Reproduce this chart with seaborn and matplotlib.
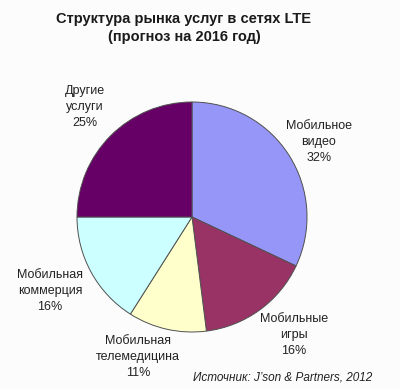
import matplotlib
matplotlib.use("Agg")
import matplotlib.pyplot as plt
import seaborn as sns

sns.set_theme(style="white")
plt.rcParams['font.family'] = ['Liberation Sans', 'DejaVu Sans']

# data
segments = ["Мобильное\nвидео", "Мобильные\nигры", "Мобильная\nтелемедицина",
            "Мобильная\nкоммерция", "Другие\nуслуги"]
shares = [32, 16, 11, 16, 25]
colors = ["#9696F8", "#993366", "#FFFFCC", "#CCFFFF", "#660066"]

# label centres in pie units (radius = 1)
label_pos = [(1.104, 0.652), (0.887, -1.026), (-0.470, -1.217),
             (-1.235, -0.643), (-0.930, 0.957)]

W, H = 400, 389
fig = plt.figure(figsize=(W / 100, H / 100), dpi=100)
fig.patch.set_facecolor("#FCFCFC")

cx, cy, r = 192, 217, 115
ax = fig.add_axes([(cx - r) / W, (H - cy - r) / H, 2 * r / W, 2 * r / H])
ax.pie(shares, colors=colors, startangle=90, counterclock=False, radius=1,
       wedgeprops=dict(edgecolor="#505050", linewidth=0.7))
ax.set_xlim(-1, 1)
ax.set_ylim(-1, 1)
ax.set_aspect("equal")
ax.axis("off")

for name, val, (x, y) in zip(segments, shares, label_pos):
    ax.text(x, y, f"{name}\n{val}%", ha="center", va="center", fontsize=9,
            linespacing=1.45, color="#222222", clip_on=False)

fig.text(184 / W, 1 - 28 / H, "Структура рынка услуг в сетях LTE\n(прогноз на 2016 год)",
         ha="center", va="center", fontsize=10.5, fontweight="bold",
         linespacing=1.35, color="#1a1a1a")
fig.text(372 / W, 1 - 378 / H, "Источник: J’son & Partners, 2012",
         ha="right", va="center", fontsize=8.5, style="italic", color="#222222")

fig.savefig("out.png", dpi=100, facecolor=fig.get_facecolor())
